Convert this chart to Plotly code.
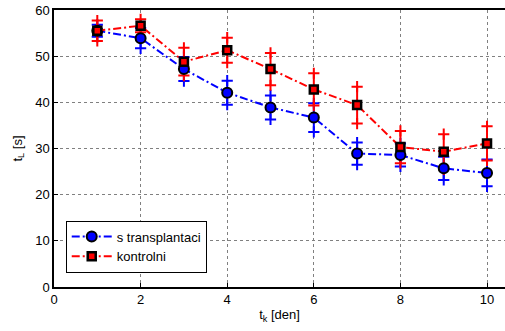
import plotly.graph_objects as go

days = [1, 2, 3, 4, 5, 6, 7, 8, 9, 10]
transplant_mean = [55.5, 53.9, 47.2, 42.1, 38.9, 36.7, 28.9, 28.6, 25.7, 24.7]
transplant_err = [1.3, 2.2, 2.6, 2.6, 2.6, 3.1, 2.4, 2.5, 2.5, 2.9]
control_mean = [55.5, 56.6, 48.8, 51.3, 47.2, 42.8, 39.4, 30.3, 29.3, 31.1]
control_err = [2.2, 1.4, 3.0, 2.7, 3.5, 3.5, 4.0, 3.5, 3.8, 3.7]

x_ticks = [0, 2, 4, 6, 8, 10]
y_ticks = [0, 10, 20, 30, 40, 50, 60]

fig = go.Figure()

series = [
    ("s transplantaci", transplant_mean, transplant_err, "#0000ff", "circle", 10),
    ("kontrolni", control_mean, control_err, "#ff0000", "square", 8),
]

for name, mean, err, col, sym, msize in series:
    fig.add_trace(go.Scatter(
        x=days, y=mean, mode="markers", showlegend=False,
        marker=dict(size=0.1, color=col, opacity=0),
        error_y=dict(type="data", array=err, symmetric=True, color=col,
                     thickness=2, width=0),
        hoverinfo="skip",
    ))
    ends_y = [m + e for m, e in zip(mean, err)] + [m - e for m, e in zip(mean, err)]
    fig.add_trace(go.Scatter(
        x=days + days, y=ends_y, mode="markers", showlegend=False,
        marker=dict(symbol="cross-thin", size=8, line=dict(color=col, width=2)),
        hoverinfo="skip",
    ))

for name, mean, err, col, sym, msize in series:
    fig.add_trace(go.Scatter(
        x=days, y=mean, mode="lines+markers", name=name,
        line=dict(color=col, width=2, dash="8px,3px,2px,3px"),
        marker=dict(symbol=sym, size=msize, color=col,
                    line=dict(color="black", width=2 if sym == "circle" else 2.5)),
    ))

fig.update_layout(
    width=505, height=331,
    margin=dict(l=54, r=0, t=10, b=44, autoexpand=False),
    paper_bgcolor="white", plot_bgcolor="white",
    font=dict(family="Liberation Sans, Arial, sans-serif", size=13, color="black"),
    showlegend=True,
    legend=dict(x=0.026, y=0.24, xanchor="left", yanchor="top",
                bordercolor="black", borderwidth=1, bgcolor="white",
                font=dict(size=13), tracegroupgap=0, itemwidth=40),
)
fig.update_xaxes(
    range=[0, 10.415], tickvals=x_ticks, ticktext=[str(v) for v in x_ticks],
    showgrid=True, gridcolor="#808080", griddash="dot", gridwidth=1,
    showline=True, linecolor="black", linewidth=1.5, mirror=True,
    ticks="inside", ticklen=4, tickcolor="black", zeroline=False, automargin=False,
    title=dict(text="t<sub>k</sub> [den]", standoff=4, font=dict(size=13)),
)
fig.update_yaxes(
    range=[0, 60], tickvals=y_ticks, ticktext=[str(v) for v in y_ticks],
    showgrid=True, gridcolor="#808080", griddash="dot", gridwidth=1,
    showline=True, linecolor="black", linewidth=1.5, mirror=True,
    ticks="inside", ticklen=4, tickcolor="black", zeroline=False, automargin=False,
    title=dict(text="t<sub>L</sub> [s]", standoff=10, font=dict(size=13)),
)

fig.write_html("out.html", config={"displayModeBar": False},
               post_script="document.body.style.margin='0';document.body.style.overflow='hidden';")
